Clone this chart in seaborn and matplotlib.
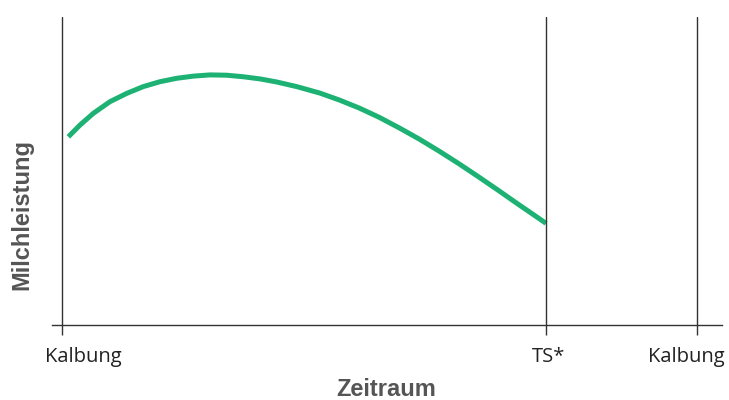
import numpy as np
import pandas as pd
import matplotlib
matplotlib.use("Agg")
import matplotlib.pyplot as plt
import matplotlib.transforms as mtransforms
import seaborn as sns

# milk yield over the lactation (days after calving, relative level)
tage = [4.0, 11.3, 19.7, 30.2, 40.8, 51.2, 61.8, 72.3, 82.7, 93.3, 103.8, 114.2,
        124.8, 135.3, 147.9, 162.5, 175.0, 187.5, 200.0, 212.5, 225.0, 237.5,
        250.0, 262.5, 275.0, 287.5, 300.0, 305.0]
leistung = [61.1, 64.9, 68.7, 72.5, 75.2, 77.4, 79.0, 80.1, 80.8, 81.2, 81.1, 80.6,
            79.9, 78.9, 77.4, 75.3, 73.0, 70.4, 67.4, 64.0, 60.4, 56.5,
            52.4, 48.1, 43.7, 39.2, 34.8, 33.0]

marken = [0, 305, 400]
marken_labels = ["Kalbung", "TS*", "Kalbung"]

df = pd.DataFrame({"Tage": tage, "Milchleistung": leistung})

sns.set_style("white")
plt.rcParams["font.family"] = ["Open Sans", "DejaVu Sans"]

fig = plt.figure(figsize=(7.29, 4.0), dpi=100)
ax = fig.add_axes([52 / 729, 1 - 325 / 400, 670 / 729, 308 / 400])

sns.lineplot(data=df, x="Tage", y="Milchleistung", ax=ax, color="#1db274",
             linewidth=3.6, solid_capstyle="butt", solid_joinstyle="round")

for m in marken:
    ax.axvline(m, color="#333333", linewidth=1.0)

ax.set_xlim(-6.3, 415.9)
ax.set_ylim(0, 100)
ax.set_yticks([])

ax.set_xticks(marken)
ax.set_xticklabels(marken_labels, fontsize=14.5, color="#222222")
ax.tick_params(axis="x", direction="out", length=7, width=1.0, color="#333333", pad=9, bottom=True)

# shift tick labels like the reference
offsets = [21, 3, -10]
for lab, dx in zip(ax.get_xticklabels(), offsets):
    lab.set_transform(lab.get_transform() + mtransforms.ScaledTranslation(dx / 100, 0, fig.dpi_scale_trans))

for side in ["left", "right", "top"]:
    ax.spines[side].set_visible(False)
ax.spines["bottom"].set_color("#333333")
ax.spines["bottom"].set_linewidth(1.0)

ax.set_xlabel("Zeitraum", fontsize=17, fontweight="bold", color="#555555",
              family=["Liberation Sans", "DejaVu Sans"])
ax.set_ylabel("Milchleistung", fontsize=17, fontweight="bold", color="#555555",
              family=["Liberation Sans", "DejaVu Sans"])
ax.xaxis.set_label_coords((386 - 52) / 670, (325 - 378) / 308)
ax.yaxis.set_label_coords((33 - 52) / 670, (325 - 215) / 308)

fig.savefig("out.png", dpi=100)
